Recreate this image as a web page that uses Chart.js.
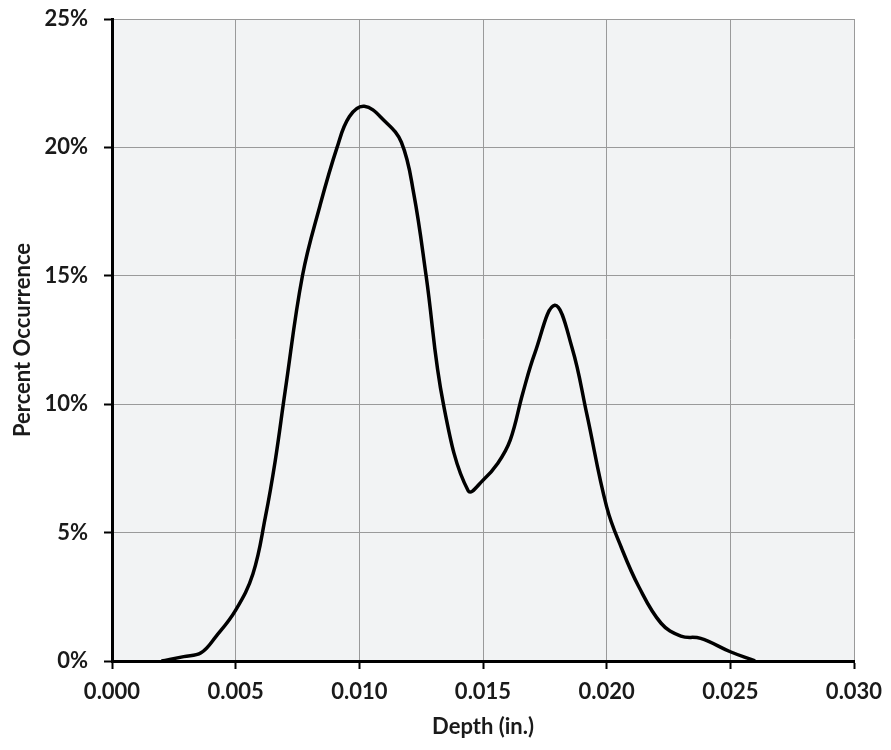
<!DOCTYPE html>
<html>
<head>
<meta charset="utf-8">
<script src="https://cdn.jsdelivr.net/npm/chart.js@4/dist/chart.umd.min.js"></script>
<style>
  html, body { margin: 0; padding: 0; background: #fff; }
  #wrap { width: 891px; height: 750px; position: relative; }
</style>
</head>
<body>
<div id="wrap"><canvas id="chart"></canvas></div>
<script>
// depth (in.) and percent occurrence
const depth = [
  0.0020, 0.0029, 0.0036, 0.0042, 0.0050, 0.0057, 0.0062, 0.0066, 0.0070,
  0.0077, 0.0084, 0.0091, 0.0096, 0.0102, 0.0110, 0.0117, 0.0122, 0.0127,
  0.0134, 0.0144, 0.0150, 0.0156, 0.0161, 0.0166, 0.0171, 0.0179, 0.0186,
  0.0192, 0.0200, 0.0206, 0.0213, 0.0222, 0.0230, 0.0238, 0.0250, 0.0260,
];
const percent = [
  0.00, 0.17, 0.32, 0.95, 1.98, 3.4, 5.6, 7.8, 10.5,
  15.0, 17.7, 20.0, 21.2, 21.6, 21.05, 20.2, 18.2, 15.0,
  10.0, 6.63, 7.04, 7.7, 8.6, 10.4, 12.0, 13.85, 12.2,
  9.6, 6.0, 4.4, 2.89, 1.47, 0.97, 0.88, 0.36, 0.00,
];
const xTicks = [0, 0.005, 0.010, 0.015, 0.020, 0.025, 0.030];
const yTicks = [0, 5, 10, 15, 20, 25];

const FONT = "Lato, 'Open Sans', sans-serif";

// light grey fill behind the plot area
const plotBackground = {
  id: 'plotBackground',
  beforeDraw(chart) {
    const { ctx, chartArea: a } = chart;
    ctx.save();
    ctx.fillStyle = '#f2f3f4';
    ctx.fillRect(a.left, a.top, a.right - a.left, a.bottom - a.top);
    ctx.restore();
  },
};

const ctx = document.getElementById('chart').getContext('2d');

new Chart(ctx, {
  type: 'line',
  data: {
    datasets: [{
      data: depth.map((d, i) => ({ x: d, y: percent[i] })),
      borderColor: '#000',
      borderWidth: 3.5,
      pointRadius: 0,
      fill: false,
      tension: 0.4,
    }],
  },
  options: {
    responsive: true,
    maintainAspectRatio: false,
    animation: false,
    layout: { padding: { top: 19, right: 37, left: 10, bottom: 10 } },
    plugins: {
      legend: { display: false },
      tooltip: { enabled: false },
    },
    scales: {
      x: {
        type: 'linear',
        min: 0,
        max: 0.03,
        afterBuildTicks: (s) => { s.ticks = xTicks.map(v => ({ value: v })); },
        afterFit: (s) => { s.height = 79; s.paddingLeft = 0; s.paddingRight = 0; },
        ticks: {
          color: '#1a1a1a',
          font: { family: FONT, size: 22, weight: 'bold' },
          padding: 10,
          maxRotation: 0,
          callback: (v) => v.toFixed(3),
        },
        grid: {
          color: '#9a9a9a',
          lineWidth: 1,
          tickColor: '#000',
          tickLength: 8,
          tickWidth: 2,
        },
        border: { color: '#000', width: 3 },
        title: {
          display: true,
          text: 'Depth (in.)',
          color: '#1a1a1a',
          font: { family: FONT, size: 22, weight: 'bold' },
          padding: { top: 2, bottom: 0 },
        },
      },
      y: {
        type: 'linear',
        min: 0,
        max: 25,
        afterBuildTicks: (s) => { s.ticks = yTicks.map(v => ({ value: v })); },
        afterFit: (s) => { s.width = 102; s.paddingTop = 0; s.paddingBottom = 0; },
        ticks: {
          color: '#1a1a1a',
          font: { family: FONT, size: 22, weight: 'bold' },
          padding: 16,
          callback: (v) => v + '%',
        },
        grid: {
          color: '#9a9a9a',
          lineWidth: 1,
          tickColor: '#000',
          tickLength: 8,
          tickWidth: 2,
        },
        border: { color: '#000', width: 3 },
        title: {
          display: true,
          text: 'Percent Occurrence',
          color: '#1a1a1a',
          font: { family: FONT, size: 22, weight: 'bold' },
          padding: { top: 0, bottom: 6 },
        },
      },
    },
  },
  plugins: [plotBackground],
});
</script>
</body>
</html>
